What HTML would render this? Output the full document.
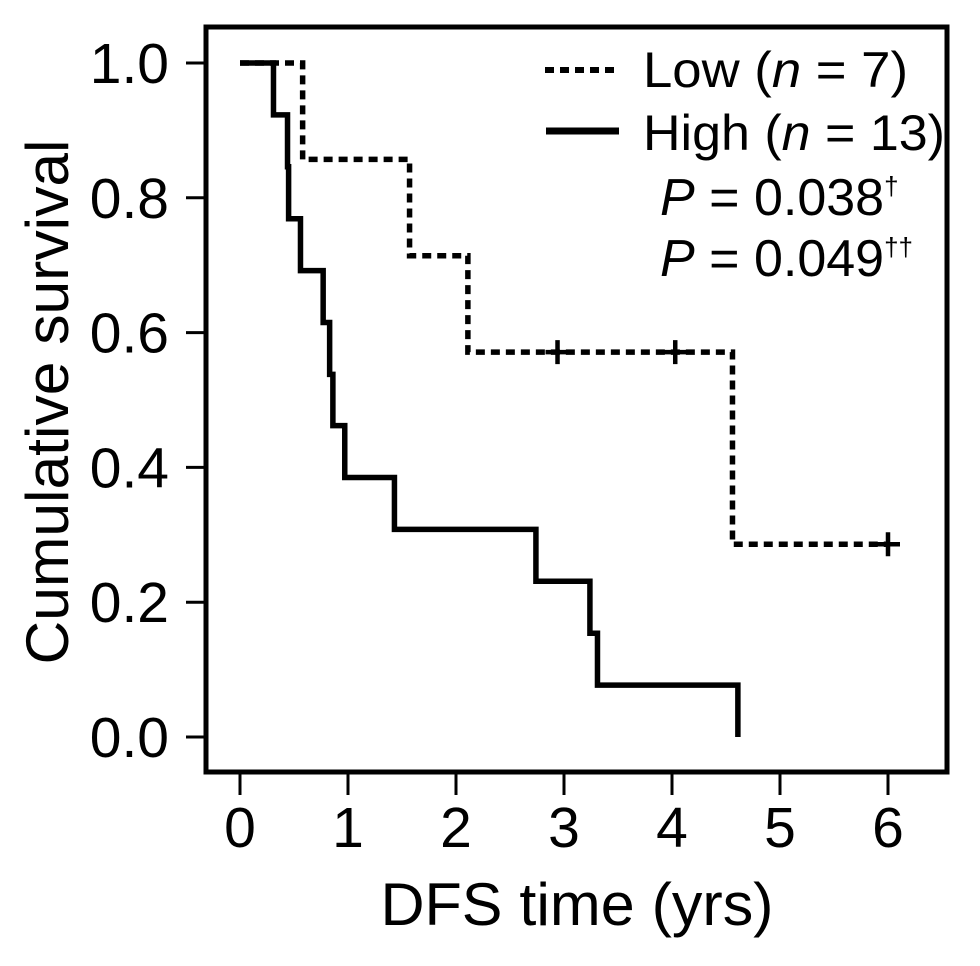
<!DOCTYPE html>
<html><head><meta charset="utf-8"><style>
body{margin:0;background:#fff}
svg{display:block;font-family:"Liberation Sans",Arial,sans-serif}
</style></head><body>
<svg id="chart" width="980" height="966" viewBox="0 0 980 966" xmlns="http://www.w3.org/2000/svg">
<rect x="206" y="27" width="741" height="745" fill="none" stroke="#000" stroke-width="5"/>
<g id="axes"></g>
<g id="series"></g>
<text transform="translate(68,402) rotate(-90)" text-anchor="middle" font-size="60" textLength="525" lengthAdjust="spacingAndGlyphs">Cumulative survival</text>
<text x="577" y="925" text-anchor="middle" font-size="60" textLength="393" lengthAdjust="spacingAndGlyphs">DFS time (yrs)</text>
<g>
<line x1="545" y1="70" x2="619" y2="70" stroke="#000" stroke-width="6" stroke-dasharray="9,6"/>
<text x="643" y="87" font-size="50" textLength="265" lengthAdjust="spacingAndGlyphs">Low (<tspan font-style="italic">n</tspan> = 7)</text>
<line x1="546" y1="131" x2="619" y2="131" stroke="#000" stroke-width="7"/>
<text x="643" y="150" font-size="50" textLength="302" lengthAdjust="spacingAndGlyphs">High (<tspan font-style="italic">n</tspan> = 13)</text>
<text x="660" y="215" font-size="52"><tspan font-style="italic">P</tspan> = 0.038<tspan font-size="26" dy="-20">†</tspan></text>
<text x="660" y="276" font-size="52"><tspan font-style="italic">P</tspan> = 0.049<tspan font-size="26" dy="-20">††</tspan></text>
</g>
</svg>
<script>
const xTicks=[0,1,2,3,4,5,6];
const yTicks=[0,0.2,0.4,0.6,0.8,1.0];
const lowTimes=[0,0.58,1.57,2.11,4.56,6.0];
const lowSurv=[1,0.857,0.714,0.571,0.286,0.286];
const lowCensorT=[2.94,4.03,6.0];
const lowCensorS=[0.571,0.571,0.286];
const highTimes=[0,0.31,0.44,0.45,0.56,0.77,0.83,0.86,0.97,1.43,2.74,3.24,3.31,4.61];
const highSurv=[1,0.923,0.846,0.769,0.692,0.615,0.538,0.462,0.385,0.308,0.231,0.154,0.077,0];
const NS="http://www.w3.org/2000/svg";
const X=t=>240+108*t, Y=v=>737-674*v;
const axes=document.getElementById('axes'), series=document.getElementById('series');
function mk(tag,attrs,parent){const e=document.createElementNS(NS,tag);for(const k in attrs)e.setAttribute(k,attrs[k]);parent.appendChild(e);return e;}
xTicks.forEach(t=>{
 const l=mk('line',{x1:X(t),x2:X(t),y1:774,y2:795,stroke:'#000','stroke-width':3},axes);
 
 
 const tx=mk('text',{x:X(t),y:847,'text-anchor':'middle','font-size':57},axes);tx.textContent=t;
 
 
});
yTicks.forEach(v=>{
 const l=mk('line',{x1:186,x2:206,y1:Y(v),y2:Y(v),stroke:'#000','stroke-width':3},axes);
 
 
 const tx=mk('text',{x:169,y:Y(v)+20,'text-anchor':'end','font-size':57},axes);tx.textContent=v.toFixed(1);
 
 
});
function stepPath(ts,ss){let d=`M${X(ts[0])},${Y(ss[0])}`;for(let i=1;i<ts.length;i++){d+=` H${X(ts[i])} V${Y(ss[i])}`;}return d;}
const lp=mk('path',{d:stepPath(lowTimes,lowSurv),fill:'none',stroke:'#000','stroke-width':5.5,'stroke-dasharray':'9,6'},series);


const hp=mk('path',{d:stepPath(highTimes,highSurv),fill:'none',stroke:'#000','stroke-width':5.5},series);


lowCensorT.forEach((t,i)=>{
 const c=mk('path',{d:`M${X(t)-12},${Y(lowCensorS[i])} H${X(t)+12} M${X(t)},${Y(lowCensorS[i])-12} V${Y(lowCensorS[i])+12}`,stroke:'#000','stroke-width':4.5},series);
 
 
});
</script>
</body></html>
